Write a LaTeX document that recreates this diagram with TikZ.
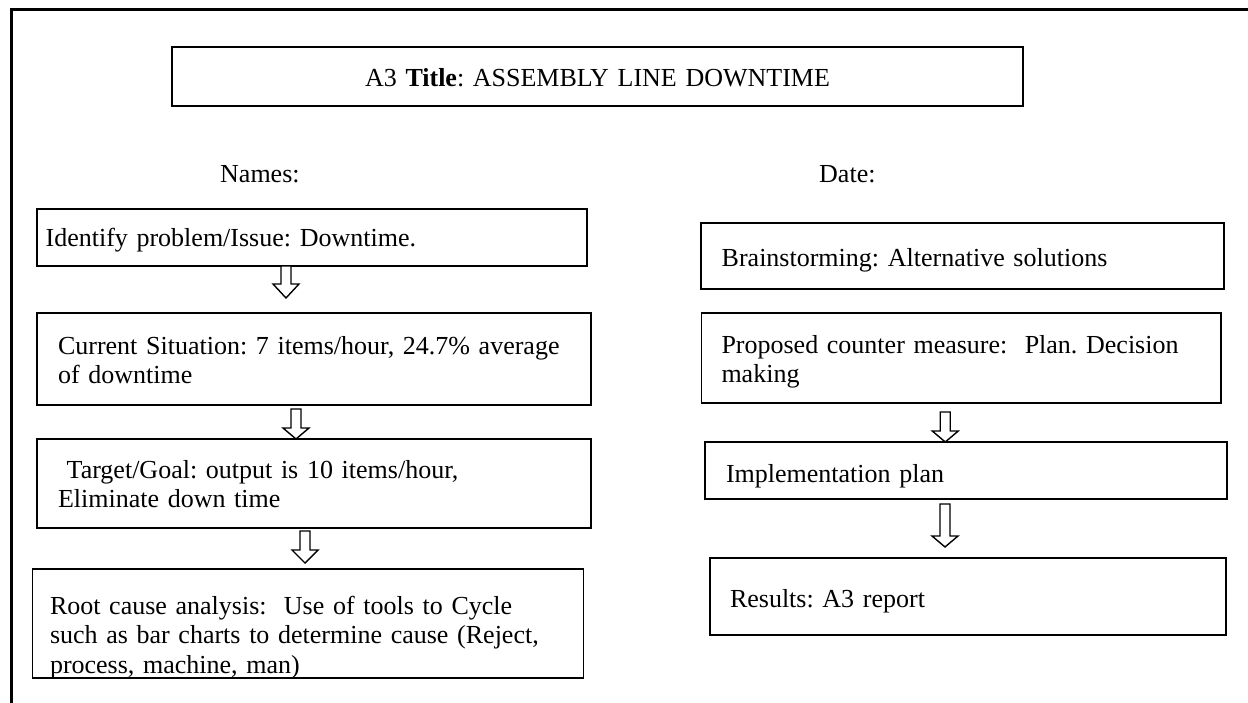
\documentclass[tikz,border=0pt]{standalone}
\usepackage{fontspec}
\setmainfont{Liberation Serif}
\usetikzlibrary{calc}
\frenchspacing

\tikzset{
  stagebox/.style={draw, line width=1.6pt, inner ysep=0pt, outer sep=0pt, align=left, anchor=north west},
  blockarrow/.style={draw, line width=1.4pt, fill=white, line join=miter},
}

\newcommand\hollowarrow[6]{%
  \path (#1.south) ++(#3,#4) coordinate (top);
  \path (#2.north -| top) ++(0,-#5) coordinate (tip);
  \draw[blockarrow] ($(top)+(-5,0)$) -- ($(tip)+(-5,-#6)$) -- ($(tip)+(-13,-#6)$) -- (tip)
    -- ($(tip)+(13,-#6)$) -- ($(tip)+(5,-#6)$) -- ($(top)+(5,0)$) -- cycle;
}

\begin{document}
\begin{tikzpicture}[x=1pt, y=-1pt, font=\fontsize{26}{29.5}\selectfont]
\useasboundingbox (0,0) rectangle (1248,702);
\draw[line width=2.7pt] (11.3,706) -- (11.3,9.3) -- (1252,9.3);

\node(t)[stagebox, align=center, inner xsep=0pt, text width=851pt, text height=39pt, text depth=20pt] at (172,47) {A3 \textbf{Title}: ASSEMBLY LINE DOWNTIME};
\node(n)[anchor=base west, inner sep=0pt] at (220,182) {Names:};
\node(m)[anchor=base west, inner sep=0pt] at (819,182) {Date:};

\node(a)[stagebox, inner xsep=8.6pt, text width=532.8pt, text height=37pt, text depth=20pt] at (37,209) {Identify problem/Issue: Downtime.};
\node(b)[stagebox, inner xsep=21pt, text width=512pt, text height=41pt, text depth=51pt] at (37,313) {Current Situation: 7 items/hour, 24.7\% average\\ of downtime};
\node(c)[stagebox, inner xsep=21pt, text width=512pt, text height=39pt, text depth=50pt] at (37,439) {\ Target/Goal: output is 10 items/hour,\\ Eliminate down time};
\node(d)[stagebox, inner xsep=17.5pt, text width=516pt, text height=45pt, text depth=64pt] at (32.5,569) {Root cause analysis:\ \ Use of tools to Cycle\\ such as bar charts to determine cause (Reject,\\ process, machine, man)};

\node(e)[stagebox, inner xsep=21pt, text width=481pt, text height=43pt, text depth=23pt] at (700.7,223) {Brainstorming: Alternative solutions};
\node(f)[stagebox, inner xsep=20pt, text width=479.5pt, text height=40pt, text depth=50pt] at (701.5,313) {Proposed counter measure:\ \ Plan. Decision\\ making};
\node(g)[stagebox, inner xsep=21pt, text width=480pt, text height=40pt, text depth=17pt] at (705,442) {Implementation plan};
\node(h)[stagebox, inner xsep=20pt, text width=476pt, text height=49pt, text depth=28pt] at (710,558) {Results: A3 report};

\hollowarrow{a}{b}{-26}{0}{15}{14}
\hollowarrow{b}{c}{-18}{4}{0}{11}
\hollowarrow{c}{d}{-9}{3}{6}{13}
\hollowarrow{f}{g}{-16}{9}{0}{11}
\hollowarrow{g}{h}{-21}{5}{11}{11}
\end{tikzpicture}
\end{document}
